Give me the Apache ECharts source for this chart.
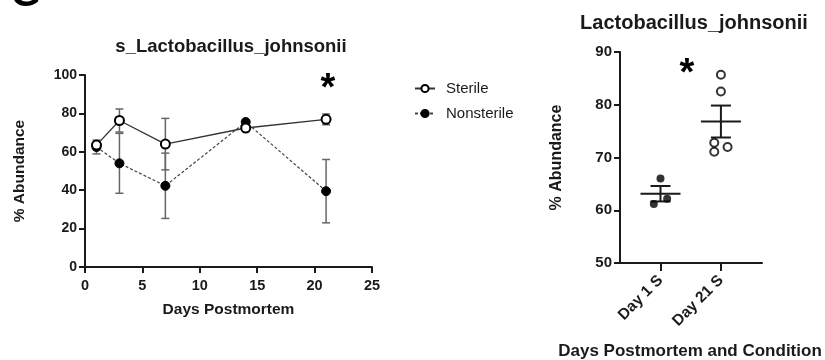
<!DOCTYPE html>
<html>
<head>
<meta charset="utf-8">
<script src="https://cdn.jsdelivr.net/npm/echarts@6/dist/echarts.min.js"></script>
<style>
  html, body { margin: 0; padding: 0; background: #fff; }
  #chart { width: 825px; height: 360px; }
</style>
</head>
<body>
<div id="chart"></div>
<script>
// Time course: mean ± SEM per day
const days = [1, 3, 7, 14, 21];
const sterileMean = [63.5, 76.3, 64.0, 72.4, 76.9];
const sterileSem = [1.5, 6.0, 13.4, 1.2, 2.8];
const nonsterileMean = [62.5, 54.0, 42.3, 75.5, 39.5];
const nonsterileSem = [3.6, 15.6, 17.0, 1.0, 16.5];

// Individual samples by group
const groups = ['Day 1 S', 'Day 21 S'];
const day1Values = [66.0, 61.2, 62.2];
const day21Values = [85.7, 82.5, 72.8, 71.1, 72.0];
const day1Jitter = [0, -0.11, 0.11];
const day21Jitter = [0, 0, -0.11, -0.11, 0.11];

const xTicks = [0, 5, 10, 15, 20, 25];
const yTicksLeft = [0, 20, 40, 60, 80, 100];
const yTicksRight = [50, 60, 70, 80, 90];

const FONT = 'Liberation Sans, Arial, sans-serif';
const INK = '#1a1a1a';

function meanSem(vals) {
  const n = vals.length;
  const m = vals.reduce((a, b) => a + b, 0) / n;
  const v = vals.reduce((a, b) => a + (b - m) * (b - m), 0) / (n - 1);
  return [m, Math.sqrt(v) / Math.sqrt(n)];
}

const errSterile = days.map((d, i) => [d, sterileMean[i] - sterileSem[i], sterileMean[i] + sterileSem[i]]);
const errNonsterile = days.map((d, i) => [d, nonsterileMean[i] - nonsterileSem[i], nonsterileMean[i] + nonsterileSem[i]]);

const s1 = meanSem(day1Values);
const s21 = meanSem(day21Values);
const summary = [[1, s1[0], s1[1]], [2, s21[0], s21[1]]];

function errorBarItem(params, api) {
  const x = api.value(0);
  const lo = api.coord([x, api.value(1)]);
  const hi = api.coord([x, api.value(2)]);
  const hw = 4;
  const style = { stroke: '#666', lineWidth: 1.5 };
  return {
    type: 'group',
    children: [
      { type: 'line', shape: { x1: lo[0], y1: lo[1], x2: hi[0], y2: hi[1] }, style },
      { type: 'line', shape: { x1: lo[0] - hw, y1: lo[1], x2: lo[0] + hw, y2: lo[1] }, style },
      { type: 'line', shape: { x1: hi[0] - hw, y1: hi[1], x2: hi[0] + hw, y2: hi[1] }, style }
    ]
  };
}

function meanSemItem(params, api) {
  const x = api.value(0);
  const m = api.value(1);
  const e = api.value(2);
  const c = api.coord([x, m]);
  const lo = api.coord([x, m - e]);
  const hi = api.coord([x, m + e]);
  const style = { stroke: INK, lineWidth: 2 };
  return {
    type: 'group',
    children: [
      { type: 'line', shape: { x1: c[0] - 20, y1: c[1], x2: c[0] + 20, y2: c[1] }, style },
      { type: 'line', shape: { x1: lo[0], y1: lo[1], x2: hi[0], y2: hi[1] }, style },
      { type: 'line', shape: { x1: lo[0] - 10, y1: lo[1], x2: lo[0] + 10, y2: lo[1] }, style },
      { type: 'line', shape: { x1: hi[0] - 10, y1: hi[1], x2: hi[0] + 10, y2: hi[1] }, style }
    ]
  };
}

const axisLineStyle = { lineStyle: { color: INK, width: 2 } };
const tickStyle = { show: true, length: 6, lineStyle: { color: INK, width: 2 } };
const labelStyle = { color: INK, fontFamily: FONT, fontWeight: 'bold', fontSize: 14 };

const chart = echarts.init(document.getElementById('chart'), null, { renderer: 'canvas' });

chart.setOption({
  animation: false,
  backgroundColor: '#fff',
  textStyle: { fontFamily: FONT },
  grid: [
    { left: 85, top: 75, width: 287, height: 192 },
    { left: 620, top: 52, width: 142, height: 211 }
  ],
  xAxis: [
    {
      gridIndex: 0, type: 'value', min: xTicks[0], max: xTicks[xTicks.length - 1], interval: 5,
      axisLine: axisLineStyle, axisTick: tickStyle, splitLine: { show: false },
      axisLabel: Object.assign({ margin: 11 }, labelStyle, { fontSize: 14.5 }),
      name: 'Days Postmortem', nameLocation: 'middle', nameGap: 35,
      nameTextStyle: { color: INK, fontFamily: FONT, fontWeight: 'bold', fontSize: 15.5 }
    },
    {
      gridIndex: 1, type: 'value', min: 0.33, max: 2.68,
      axisLine: axisLineStyle, splitLine: { show: false },
      axisTick: Object.assign({ customValues: [1, 2] }, tickStyle, { length: 8 }),
      axisLabel: Object.assign({
        customValues: [1, 2], rotate: 45, margin: 15,
        formatter: v => groups[Math.round(v) - 1] || ''
      }, labelStyle, { fontSize: 15.5 })
    }
  ],
  yAxis: [
    {
      gridIndex: 0, type: 'value', min: yTicksLeft[0], max: yTicksLeft[yTicksLeft.length - 1], interval: 20,
      axisLine: Object.assign({ show: true }, axisLineStyle), axisTick: tickStyle, splitLine: { show: false },
      axisLabel: Object.assign({ margin: 8 }, labelStyle),
      name: '% Abundance', nameLocation: 'middle', nameGap: 57,
      nameTextStyle: { color: INK, fontFamily: FONT, fontWeight: 'bold', fontSize: 15.5 }
    },
    {
      gridIndex: 1, type: 'value', min: yTicksRight[0], max: yTicksRight[yTicksRight.length - 1], interval: 10,
      axisLine: Object.assign({ show: true }, axisLineStyle), axisTick: tickStyle, splitLine: { show: false },
      axisLabel: Object.assign({ margin: 8 }, labelStyle, { fontSize: 15 }),
      name: '% Abundance', nameLocation: 'middle', nameGap: 55,
      nameTextStyle: { color: INK, fontFamily: FONT, fontWeight: 'bold', fontSize: 16 }
    }
  ],
  legend: {
    orient: 'vertical', left: 409, top: 76, itemGap: 10, itemWidth: 20, itemHeight: 9,
    textStyle: { color: INK, fontFamily: FONT, fontSize: 15, padding: [0, 0, 0, 6] },
    data: ['Sterile', 'Nonsterile']
  },
  title: [
    {
      text: 's_Lactobacillus_johnsonii', left: 226, top: 32, textAlign: 'center',
      textStyle: { color: INK, fontFamily: FONT, fontWeight: 'bold', fontSize: 18.5 }
    },
    {
      text: 'Lactobacillus_johnsonii', left: 689, top: 8, textAlign: 'center',
      textStyle: { color: INK, fontFamily: FONT, fontWeight: 'bold', fontSize: 20 }
    }
  ],
  graphic: [
    { type: 'text', x: 11, y: 15, style: { text: 'G', fill: '#000', font: 'bold 38px ' + FONT, align: 'left', verticalAlign: 'bottom' } },
    { type: 'text', x: 328, y: 90, style: { text: '*', fill: '#000', font: 'bold 38px ' + FONT, align: 'center', verticalAlign: 'middle' } },
    { type: 'text', x: 687, y: 75, style: { text: '*', fill: '#000', font: 'bold 38px ' + FONT, align: 'center', verticalAlign: 'middle' } },
    { type: 'text', x: 690, y: 351, style: { text: 'Days Postmortem and Condition', fill: INK, font: 'bold 17px ' + FONT, align: 'center', verticalAlign: 'middle' } }
  ],
  series: [
    {
      type: 'custom', xAxisIndex: 0, yAxisIndex: 0, z: 1, silent: true,
      renderItem: errorBarItem, data: errNonsterile
    },
    {
      type: 'custom', xAxisIndex: 0, yAxisIndex: 0, z: 1, silent: true,
      renderItem: errorBarItem, data: errSterile
    },
    {
      name: 'Nonsterile', type: 'line', xAxisIndex: 0, yAxisIndex: 0, z: 3,
      data: days.map((d, i) => [d, nonsterileMean[i]]),
      symbol: 'circle', symbolSize: 9,
      itemStyle: { color: '#000', borderColor: '#000', borderWidth: 1 },
      lineStyle: { color: '#444', width: 1.2, type: [3, 2] }
    },
    {
      name: 'Sterile', type: 'line', xAxisIndex: 0, yAxisIndex: 0, z: 4,
      data: days.map((d, i) => [d, sterileMean[i]]),
      symbol: 'circle', symbolSize: 9,
      itemStyle: { color: '#fff', borderColor: '#000', borderWidth: 2 },
      lineStyle: { color: '#333', width: 1.3 }
    },
    {
      type: 'custom', xAxisIndex: 1, yAxisIndex: 1, z: 2, silent: true,
      renderItem: meanSemItem, data: summary
    },
    {
      type: 'scatter', xAxisIndex: 1, yAxisIndex: 1, z: 3,
      data: day1Values.map((v, i) => [1 + day1Jitter[i], v]),
      symbol: 'circle', symbolSize: 8,
      itemStyle: { color: '#000' }
    },
    {
      type: 'scatter', xAxisIndex: 1, yAxisIndex: 1, z: 3,
      data: day21Values.map((v, i) => [2 + day21Jitter[i], v]),
      symbol: 'circle', symbolSize: 8,
      itemStyle: { color: '#fff', borderColor: '#000', borderWidth: 2 }
    }
  ]
});
</script>
</body>
</html>
